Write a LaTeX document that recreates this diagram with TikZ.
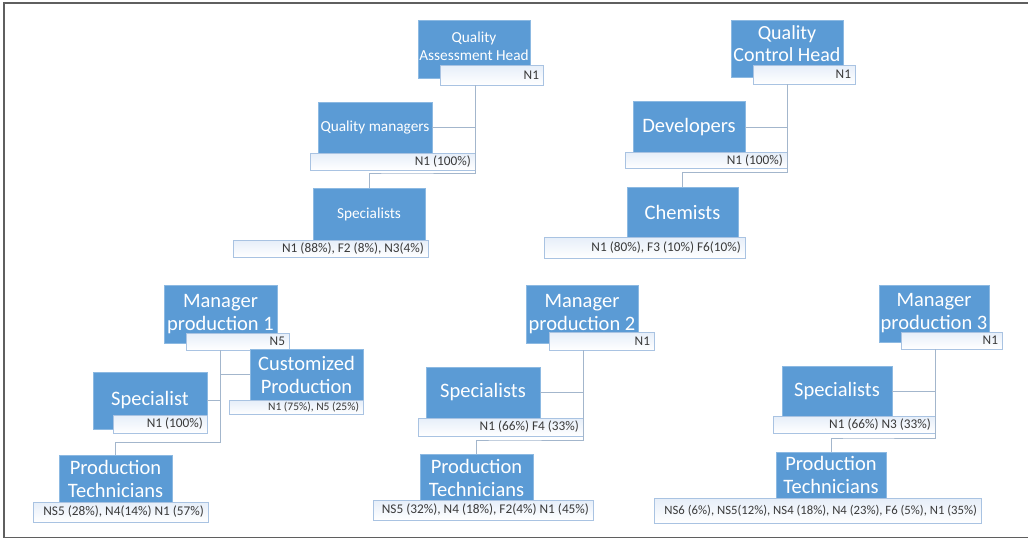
\documentclass[tikz,border=0pt]{standalone}
\usepackage{fontspec}
\setmainfont{Carlito}
\definecolor{postblue}{HTML}{5B9BD5}
\definecolor{quotaline}{HTML}{A9C3E2}
\definecolor{quotatop}{HTML}{E6EEF9}
\definecolor{quotatext}{HTML}{3A3A3A}
\definecolor{wireblue}{HTML}{A3B6CC}
\definecolor{framegray}{HTML}{5F5F5F}
\newcommand\rtag[2]{\makebox[#1][r]{#2}}
\newcommand\lifted[2]{\raisebox{#1}[\height][\depth]{\begin{tabular}{@{}c@{}}#2\end{tabular}}}
\tikzset{
  post/.style={rectangle,fill=postblue,draw=postblue!70!white,line width=.6pt,
    text=white,align=center,inner sep=1pt,outer sep=0pt,
    font=\fontsize{20.5}{23}\selectfont},
  small post/.style={post,font=\fontsize{15.3}{18}\selectfont},
  quota/.style={rectangle,draw=quotaline,line width=.8pt,
    top color=quotatop,bottom color=white,text=quotatext,
    inner xsep=4pt,inner ysep=0pt,outer sep=0pt,
    font=\fontsize{13.3}{15}\selectfont},
  wire/.style={draw=wireblue,line width=.9pt}
}
\begin{document}
\begin{tikzpicture}[x=1pt,y=-1pt]
  \useasboundingbox (0,0) rectangle (1028,539);
  \draw (1028,3) -- (4,3) -- (4,537.5) -- (1028,537.5)[color=framegray,line width=1.6pt];

  % quality assessment
  \node[small post,minimum width=112pt,minimum height=58pt] (qah) at (474,49) {\lifted{1pt}{Quality\\Assessment Head}};
  \node[quota,minimum height=20pt] (qahN) at (491.5,75) {\rtag{95pt}{N1}};
  \node[small post,minimum width=114pt,minimum height=51pt] (qm) at (375,127.5) {Quality managers};
  \node[quota,minimum height=17pt] (qmN) at (392.5,161.5) {\rtag{157pt}{N1 (100\%)}};
  \node[small post,minimum width=112pt,minimum height=52pt] (sp1) at (369,214) {Specialists};
  \node[quota,minimum height=17pt] (sp1N) at (330.5,248.5) {\rtag{187pt}{N1 (88\%), F2 (8\%), N3(4\%)}};
  \draw[wire] (qahN.south -| qmN.east) |- ([yshift=-3pt]qmN.south) -| (sp1.north);
  \draw[wire] (qm.east) -- (qm.east -| qmN.east);

  % quality control
  \node[post,minimum width=112pt,minimum height=57pt,font=\fontsize{20}{22}\selectfont] (qch) at (787,48.5) {\lifted{2pt}{Quality\\Control Head}};
  \node[quota,minimum height=19pt] (qchN) at (804,74.5) {\rtag{94pt}{N1}};
  \node[post,minimum width=112pt,minimum height=52pt] (dev) at (689,127) {Developers};
  \node[quota,minimum height=16pt] (devN) at (706,160.5) {\rtag{154pt}{N1 (100\%)}};
  \node[post,minimum width=111pt,minimum height=50pt] (chem) at (682.5,212) {Chemists};
  \node[quota,minimum height=21pt] (chemN) at (644.5,247.5) {\rtag{193pt}{N1 (80\%), F3 (10\%) F6(10\%)}};
  \draw[wire] (qchN.south -| devN.east) |- ([yshift=-4pt]devN.south) -| (chem.north);
  \draw[wire] (dev.east) -- (dev.east -| devN.east);

  % production 1
  \node[post,minimum width=113pt,minimum height=58pt] (mp1) at (220.5,314) {Manager\\production 1};
  \node[quota,minimum height=17pt] (mp1N) at (237.5,341.5) {\rtag{95pt}{N5}};
  \node[post,minimum width=113pt,minimum height=51pt] (cp) at (306.5,374.5) {Customized\\Production};
  \node[quota,minimum height=14pt,font=\fontsize{11.5}{13}\selectfont] (cpN) at (296,407.5) {\rtag{126pt}{N1 (75\%), N5 (25\%)}};
  \node[post,minimum width=114pt,minimum height=57pt] (spc) at (150,400.5) {Specialist};
  \node[quota,minimum height=18pt] (spcN) at (160,424) {\rtag{86pt}{N1 (100\%)}};
  \node[post,minimum width=113pt,minimum height=47pt] (pt1) at (115.5,478.5) {Production\\Technicians};
  \node[quota,minimum height=20pt] (pt1N) at (120.5,512) {\rtag{167pt}{NS5 (28\%), N4(14\%) N1 (57\%)}};
  \coordinate (mp1J) at (220,442);
  \draw[wire] (mp1N.south -| mp1J) -- (mp1J) -| (pt1.north);
  \draw[wire] (cp.west) -- (cp.west -| mp1J);
  \draw[wire] (spc.east) -- (spc.east -| mp1J);

  % production 2
  \node[post,minimum width=112pt,minimum height=58pt] (mp2) at (582,314) {Manager\\production 2};
  \node[quota,minimum height=18pt] (mp2N) at (601.5,341) {\rtag{97pt}{N1}};
  \node[post,minimum width=114pt,minimum height=51pt] (sp2) at (483,392.5) {Specialists};
  \node[quota,minimum height=18pt] (sp2N) at (500.5,427) {\rtag{157pt}{N1 (66\%) F4 (33\%)}};
  \node[post,minimum width=113pt,minimum height=48pt] (pt2) at (476.5,478) {Production\\Technicians};
  \node[quota,minimum height=20pt] (pt2N) at (483,510) {\rtag{212pt}{NS5 (32\%), N4 (18\%), F2(4\%) N1 (45\%)}};
  \draw[wire] (mp2N.south -| sp2N.east) |- ([yshift=-4pt]sp2N.south) -| (pt2.north);
  \draw[wire] (sp2.east) -- (sp2.east -| sp2N.east);

  % production 3
  \node[post,minimum width=110pt,minimum height=57pt] (mp3) at (934,313.5) {Manager\\production 3};
  \node[quota,minimum height=17pt] (mp3N) at (951.5,340.5) {\rtag{93pt}{N1}};
  \node[post,minimum width=110pt,minimum height=50pt] (sp3) at (837,391) {Specialists};
  \node[quota,minimum height=17pt] (sp3N) at (854,424.5) {\rtag{154pt}{N1 (66\%) N3 (33\%)}};
  \node[post,minimum width=110pt,minimum height=46pt] (pt3) at (831,475) {Production\\Technicians};
  \node[quota,minimum height=25pt,font=\fontsize{12.7}{15}\selectfont] (pt3N) at (817.5,510.5) {\rtag{319pt}{NS6 (6\%), NS5(12\%), NS4 (18\%), N4 (23\%), F6 (5\%), N1 (35\%)}};
  \draw[wire] (mp3N.south -| sp3N.east) |- ([yshift=-5pt]sp3N.south) -| (pt3.north);
  \draw[wire] (sp3.east) -- (sp3.east -| sp3N.east);
\end{tikzpicture}
\end{document}
